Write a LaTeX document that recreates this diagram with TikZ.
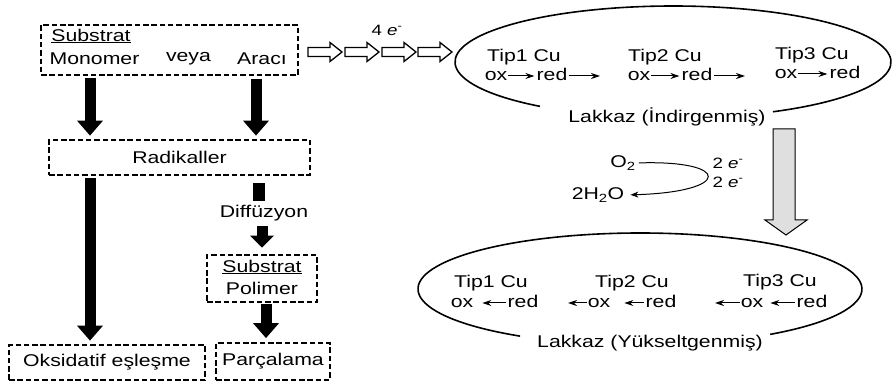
\documentclass[tikz,border=0pt]{standalone}
\usepackage{fontspec}
\setmainfont{Liberation Sans}[FakeStretch=1.25]
\usetikzlibrary{arrows.meta,calc}
\begin{document}
\begin{tikzpicture}[x=1pt,y=-1pt,
  every node/.style={inner sep=0pt, font=\fontsize{17}{20}\selectfont},
  dbox/.style={draw, rectangle, line width=2.7pt, dash pattern=on 5.5pt off 2.8pt},
  bigarrow/.style={line width=11pt, -{Triangle[width=25pt,length=15pt]}},
  midarrow/.style={line width=11pt, -{Triangle[width=23pt,length=12pt]}},
  bar/.style={line width=12pt},
  row/.style={text height=9pt, text depth=0pt},
  sm/.style={line width=1pt, -{Stealth[length=9pt,width=6pt]}},
  ell/.style={line width=1.6pt},
  hollow/.style={draw, line width=1.3pt, fill=white, line join=miter},
  small/.style={font=\fontsize{15}{18}\selectfont}]
\useasboundingbox (0,0) rectangle (892,387);

% left column boxes
\node[dbox, minimum width=257pt, minimum height=50pt] (sub) at (169.5,50) {};
\node (subl) at (91,36) {\underline{Substrat}};
\node (mono) at (94.5,59) {Monomer};
\node (veya) at (188.5,59) {veya};
\node (araci) at (262,59) {Aracı};

\node[dbox, minimum width=261pt, minimum height=35pt] (rad) at (179.5,157.5) {Radikaller};
\node (dif) at (264,213) {Diffüzyon};
\node[dbox, minimum width=110pt, minimum height=47pt] (pol) at (262,278.5) {};
\node (subl2) at (262,267) {\underline{Substrat}};
\node (polt) at (262,288) {Polimer};
\node[dbox, minimum width=196pt, minimum height=35pt] (oks) at (107,362.5) {Oksidatif eşleşme};
\node[dbox, minimum width=114pt, minimum height=37pt] (par) at (273,361.5) {Parçalama};

% black arrows
\draw[bigarrow, shorten <=2pt, shorten >=3pt] (90,0 |- sub.south) -- (90,0 |- rad.north);
\draw[bigarrow, shorten <=3pt, shorten >=3pt] (256,0 |- sub.south) -- (256,0 |- rad.north);
\draw[bigarrow, shorten <=2pt, shorten >=3pt] (90,0 |- rad.south) -- (90,0 |- oks.north);
\draw[bar, shorten <=7pt, shorten >=4pt] (259,0 |- rad.south) -- (259,0 |- dif.north);
\draw[midarrow, shorten <=5pt, shorten >=6pt] (262,0 |- dif.south) -- (262,0 |- pol.north);
\draw[bigarrow, shorten <=1pt, shorten >=3.5pt] (266,0 |- pol.south) -- (266,0 |- par.north);

% hollow arrows
\node[small] (fe) at (387,30) {4 \textit{e}\textsuperscript{-}};
\foreach \x in {308,345,382,418}
  \draw[hollow] (\x,47.5) -- ++(22,0) -- ++(0,-5) -- ++(12,9.5) -- ++(-12,9.5) -- ++(0,-5) -- ++(-22,0) -- cycle;

% top ellipse (reduced laccase)
\coordinate (e1) at (673,62);
\draw[ell] ([shift={(127.6:218 and 56)}]e1) arc[start angle=127.6, end angle=422.7, x radius=218, y radius=56];
\node (lak1) at (667,117) {Lakkaz (İndirgenmiş)};
\node (tip1a) at (524,57) {Tip1 Cu};
\node (tip2a) at (665,57) {Tip2 Cu};
\node (tip3a) at (812,55) {Tip3 Cu};
\node[row] (ox1a) at (496,76) {ox};
\node[row] (red1a) at (552,76) {red};
\coordinate (end1a) at (600,76);
\node[row] (ox2a) at (639,76) {ox};
\node[row] (red2a) at (697,76) {red};
\coordinate (end2a) at (745,76);
\node[row] (ox3a) at (786,74) {ox};
\node[row] (red3a) at (845,74) {red};
\draw[sm, shorten <=1pt, shorten >=2pt] (ox1a) -- (red1a);
\draw[sm, shorten <=1pt] (red1a) -- (end1a);
\draw[sm, shorten <=1pt, shorten >=2pt] (ox2a) -- (red2a);
\draw[sm, shorten <=1pt] (red2a) -- (end2a);
\draw[sm, shorten <=1pt, shorten >=2pt] (ox3a) -- (red3a);

% O2 -> 2H2O
\node (o2) at (623,163) {O\textsubscript{2}};
\node[small] (e2a) at (728,163) {2 \textit{e}\textsuperscript{-}};
\node[small] (e2b) at (728,182) {2 \textit{e}\textsuperscript{-}};
\node (h2o) at (598,195) {2H\textsubscript{2}O};
\draw[line width=1pt, -{Stealth[length=8pt,width=6pt]}, shorten <=3pt, shorten >=6pt]
  (o2.east) .. controls (732,160) and (732,192) .. (h2o.east);

% big gray arrow
\draw[line width=1pt, fill=gray!25, line join=miter] (773,129) -- (795,129) -- (795,220) -- (807,220) -- (786,235) -- (765,220) -- (773,220) -- cycle;

% bottom ellipse (oxidised laccase)
\coordinate (e2) at (640,289);
\draw[ell] ([shift={(122.7:222 and 56)}]e2) arc[start angle=122.7, end angle=414.1, x radius=222, y radius=56];
\node (lak2) at (650,343) {Lakkaz (Yükseltgenmiş)};
\node (tip1b) at (491,283) {Tip1 Cu};
\node (tip2b) at (632,283) {Tip2 Cu};
\node (tip3b) at (780,282) {Tip3 Cu};
\node[row] (ox1b) at (462,303) {ox};
\node[row] (red1b) at (523,303) {red};
\coordinate (st2) at (568,303);
\node[row] (ox2b) at (599,303) {ox};
\node[row] (red2b) at (661,303) {red};
\coordinate (st3) at (715,303);
\node[row] (ox3b) at (752,303) {ox};
\node[row] (red3b) at (812,303) {red};
\draw[sm, shorten <=1pt, shorten >=9pt] (red1b) -- (ox1b);
\draw[sm, shorten <=1pt] (ox2b) -- (st2);
\draw[sm, shorten <=1pt, shorten >=14pt] (red2b) -- (ox2b);
\draw[sm, shorten <=1pt] (ox3b) -- (st3);
\draw[sm, shorten <=1pt, shorten >=7pt] (red3b) -- (ox3b);
\end{tikzpicture}
\end{document}
